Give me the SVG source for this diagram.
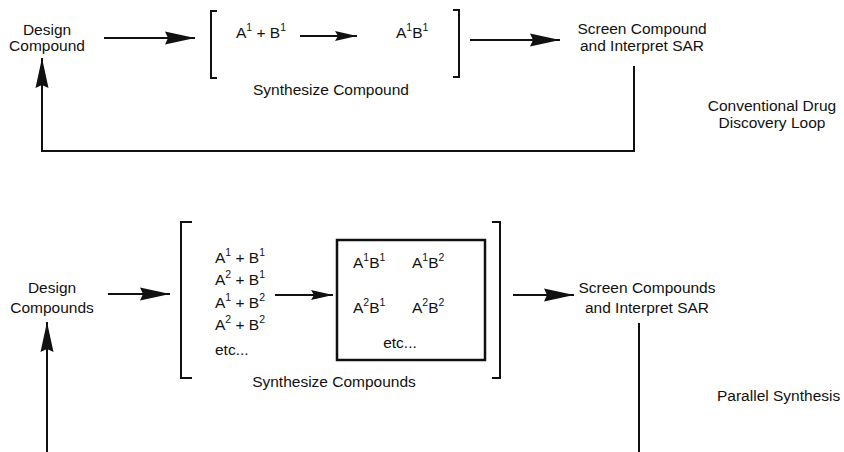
<svg xmlns="http://www.w3.org/2000/svg" width="844" height="452" viewBox="0 0 844 452">
<style>
text{font-family:"Liberation Sans",Arial,Helvetica,sans-serif;font-size:15.5px;fill:#111;}
.c{text-anchor:middle;}
.sup{font-size:10.5px;}
.ln{stroke:#111;stroke-width:2;fill:none;}
.br{stroke:#111;stroke-width:2;fill:none;}
</style>
<defs>
<marker id="big" markerUnits="userSpaceOnUse" markerWidth="32" markerHeight="16" viewBox="-31 -8 32 16" refX="0" refY="0" orient="auto">
<path d="M0,0 L-30,-6.5 L-27,0 L-30,6.5 Z" fill="#111"/>
</marker>
<marker id="small" markerUnits="userSpaceOnUse" markerWidth="24" markerHeight="12" viewBox="-23 -6 24 12" refX="0" refY="0" orient="auto">
<path d="M0,0 L-22,-5 L-19,0 L-22,5 Z" fill="#111"/>
</marker>
</defs>
<rect width="844" height="452" fill="#fff"/>

<g id="connectors">
<line class="ln" x1="104" y1="38" x2="195" y2="38" marker-end="url(#big)"/>
<line class="ln" x1="300" y1="36" x2="357" y2="36" marker-end="url(#small)"/>
<line class="ln" x1="470" y1="40" x2="560" y2="40" marker-end="url(#big)"/>
<polyline class="ln" points="634,66 634,151 42,151 42,58" marker-end="url(#big)"/>
<line class="ln" x1="108" y1="294" x2="170" y2="294" marker-end="url(#big)"/>
<line class="ln" x1="275" y1="295" x2="333" y2="295" marker-end="url(#small)"/>
<line class="ln" x1="513" y1="295" x2="574" y2="295" marker-end="url(#big)"/>
<line class="ln" x1="639" y1="323" x2="639" y2="452"/>
<line class="ln" x1="47" y1="452" x2="47" y2="322" marker-end="url(#big)"/>
</g>

<g id="design-compound">
<text class="c" x="47" y="35">Design</text>
<text class="c" x="47" y="51">Compound</text>
</g>

<g id="synthesize-compound">
<polyline class="br" points="217,11 211,11 211,78 217,78"/>
<polyline class="br" points="453,10 459,10 459,77 453,77"/>
<text x="236" y="38">A<tspan class="sup" dy="-7">1</tspan><tspan dy="7"> + B</tspan><tspan class="sup" dy="-7">1</tspan></text>
<text x="396" y="38">A<tspan class="sup" dy="-7">1</tspan><tspan dy="7">B</tspan><tspan class="sup" dy="-7">1</tspan></text>
<text class="c" x="331" y="95">Synthesize Compound</text>
</g>

<g id="screen-compound">
<text class="c" x="642" y="34">Screen Compound</text>
<text class="c" x="642" y="51">and Interpret SAR</text>
</g>

<g id="conventional-label">
<text class="c" x="772" y="111">Conventional Drug</text>
<text class="c" x="772" y="128">Discovery Loop</text>
</g>

<g id="design-compounds">
<text class="c" x="52" y="293">Design</text>
<text class="c" x="52" y="313">Compounds</text>
</g>

<g id="synthesize-compounds">
<polyline class="br" points="192,222 181,222 181,378 192,378"/>
<polyline class="br" points="492,222 500,222 500,378 492,378"/>
<text x="215" y="263">A<tspan class="sup" dy="-7">1</tspan><tspan dy="7"> + B</tspan><tspan class="sup" dy="-7">1</tspan></text>
<text x="215" y="285">A<tspan class="sup" dy="-7">2</tspan><tspan dy="7"> + B</tspan><tspan class="sup" dy="-7">1</tspan></text>
<text x="215" y="308">A<tspan class="sup" dy="-7">1</tspan><tspan dy="7"> + B</tspan><tspan class="sup" dy="-7">2</tspan></text>
<text x="215" y="330">A<tspan class="sup" dy="-7">2</tspan><tspan dy="7"> + B</tspan><tspan class="sup" dy="-7">2</tspan></text>
<text x="215" y="355">etc...</text>
<text class="c" x="334" y="387">Synthesize Compounds</text>
</g>

<g id="products">
<rect x="337" y="240" width="148" height="120" fill="none" stroke="#111" stroke-width="2.5"/>
<text x="353" y="268">A<tspan class="sup" dy="-7">1</tspan><tspan dy="7">B</tspan><tspan class="sup" dy="-7">1</tspan></text>
<text x="412" y="268">A<tspan class="sup" dy="-7">1</tspan><tspan dy="7">B</tspan><tspan class="sup" dy="-7">2</tspan></text>
<text x="353" y="313">A<tspan class="sup" dy="-7">2</tspan><tspan dy="7">B</tspan><tspan class="sup" dy="-7">1</tspan></text>
<text x="412" y="313">A<tspan class="sup" dy="-7">2</tspan><tspan dy="7">B</tspan><tspan class="sup" dy="-7">2</tspan></text>
<text class="c" x="400" y="348">etc...</text>
</g>

<g id="screen-compounds">
<text class="c" x="647" y="293">Screen Compounds</text>
<text class="c" x="647" y="313">and Interpret SAR</text>
</g>

<g id="parallel-label">
<text x="717" y="401">Parallel Synthesis</text>
</g>
</svg>
